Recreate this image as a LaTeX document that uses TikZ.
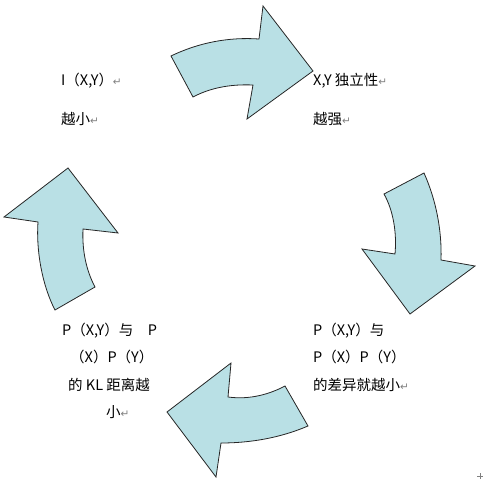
\documentclass[tikz,border=0pt]{standalone}
\usepackage{fontspec}
\setmainfont{Noto Sans CJK SC}
\newfontfamily\symfont{DejaVu Sans}
\definecolor{arrowblue}{RGB}{185,224,229}
\newcommand{\ret}{{\symfont\color{gray}\fontsize{10.5}{10.5}\selectfont ↵}}

\begin{document}
\begin{tikzpicture}[x=1pt,y=-1pt,
  curvearrow/.style={fill=arrowblue,draw=black!85,line width=0.8pt},
  txt/.style={anchor=base west,inner sep=0pt,font=\fontsize{14.5}{17}\selectfont}]
      \useasboundingbox (0,0) rectangle (484,481);
      % four bent arrows, clockwise
      \draw[curvearrow] (171,56) .. controls (200,42) and (230,37) .. (259,39) -- (263,6) -- (313,71) -- (247,119) -- (253,85) .. controls (230,84) and (210,88) .. (193,97) -- cycle;
      \draw[curvearrow] (424,173) .. controls (436,200) and (442,230) .. (441,260) -- (475,266) -- (410,314) -- (362,249) -- (395,254) .. controls (397,232) and (393,210) .. (384,194) -- cycle;
      \draw[curvearrow] (308,426) .. controls (280,438) and (250,443) .. (221,443) -- (216,477) -- (167,412) -- (231,363) -- (228,397) .. controls (250,400) and (270,394) .. (285,386) -- cycle;
      \draw[curvearrow] (55,310) .. controls (42,285) and (36,250) .. (38,222) -- (4,217) -- (68,168) -- (118,233) -- (83,229) .. controls (82,250) and (86,270) .. (95,287) -- cycle;
      % texts
      \node[txt] (ixy) at (61,86) {I（X,Y）\ret};
      \node[txt] (small) at (61,125) {越小\ret};
      \node[txt] (indep) at (313,86) {X,Y 独立性\ret};
      \node[txt] (strong) at (313,125) {越强\ret};
      \node[txt] (pxy) at (313,335) {P（X,Y）与};
      \node[txt] (pxpy) at (313,362) {P（X）P（Y）};
      \node[txt] (diff) at (313,390) {的差异就越小\ret};
      \node[txt] (kla) at (62,335) {P（X,Y）与\hspace{1em}P};
      \node[txt] (klb) at (70,362) {（X）P（Y）};
      \node[txt] (klc) at (68,390) {的 KL 距离越};
      \node[txt] (kld) at (106,417) {小\ret};
      \draw[gray,line width=1pt] (477,476) -- (483,476) (480,473) -- (480,479);
    \end{tikzpicture}
\end{document}
